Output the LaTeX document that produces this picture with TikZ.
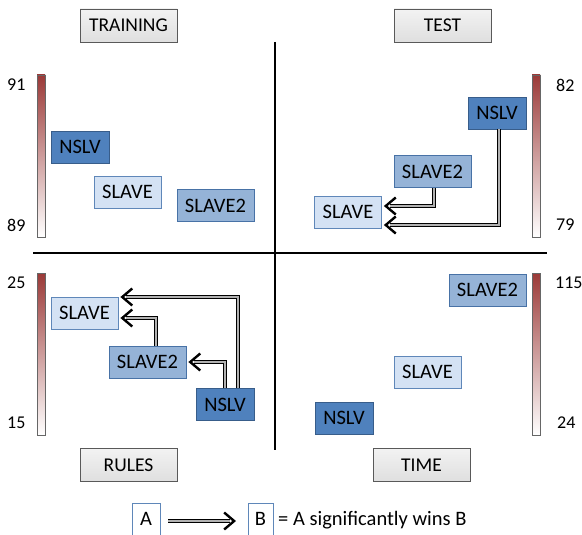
\documentclass[tikz,border=0pt]{standalone}
\usepackage{fontspec}
\setmainfont{Carlito}
\usetikzlibrary{arrows.meta,calc}
\definecolor{nslvfill}{RGB}{79,129,189}
\definecolor{nslvdraw}{RGB}{56,93,138}
\definecolor{s2fill}{RGB}{149,179,215}
\definecolor{s2draw}{RGB}{72,114,166}
\definecolor{sfill}{RGB}{212,226,244}
\definecolor{sdraw}{RGB}{95,135,185}
\definecolor{barred}{RGB}{155,58,56}
\tikzset{
  txt/.style={font=\fontsize{20.5}{24}\selectfont, text=black},
  numlbl/.style={font=\fontsize{18}{21}\selectfont, inner sep=0pt},
  titlebox/.style={font=\fontsize{19.5}{23}\selectfont, draw=gray!70!black, top color=gray!10, bottom color=gray!25, line width=0.8pt, inner sep=0pt, minimum width=97pt, minimum height=33pt},
  nslvbox/.style={txt, draw=nslvdraw, fill=nslvfill, line width=0.8pt, inner sep=0pt, minimum width=58pt, minimum height=32pt},
  slavetwobox/.style={txt, draw=s2draw, fill=s2fill, line width=0.8pt, inner sep=0pt, minimum width=77pt, minimum height=32pt},
  slavebox/.style={txt, draw=sdraw, fill=sfill, line width=0.8pt, inner sep=0pt, minimum width=67pt, minimum height=32pt},
  legbox/.style={txt, draw=sdraw, fill=white, line width=0.6pt, inner sep=0pt, minimum height=32pt},
  conn/.style={draw=black, line width=0.8pt, double=gray!60, double distance=2.4pt, shorten >=6pt},
  tipline/.style={draw=black, line width=2.4pt, -{Straight Barb[length=10pt,width=17pt]}},
  axis/.style={draw=black, line width=1.6pt},
  colbar/.style={draw=gray!80!black, line width=0.6pt, top color=barred, bottom color=white}
}
\begin{document}
\begin{tikzpicture}[x=1pt,y=-1pt]
\useasboundingbox (0,0) rectangle (582,535);

% axes
\draw[axis] (275,42) -- (275,450);
\draw[axis] (33,253) -- (547,253);

% titles
\node[titlebox] (ttrain) at (128.5,25.5) {TRAINING};
\node[titlebox] (ttest) at (442.5,25.5) {TEST};
\node[titlebox] (trules) at (128.5,465) {RULES};
\node[titlebox] (ttime) at (421.5,465) {TIME};

% colour bars
\shade[colbar] (37,75) rectangle (45,237);
\shade[colbar] (532,75) rectangle (540,237);
\shade[colbar] (37,273) rectangle (45,435);
\shade[colbar] (532,273) rectangle (540,435);

\node[numlbl, anchor=west] (l91) at (7,85) {91};
\node[numlbl, anchor=west] (l89) at (7,225) {89};
\node[numlbl, anchor=west] (l25) at (7,283) {25};
\node[numlbl, anchor=west] (l15) at (7,423) {15};
\node[numlbl, anchor=west] (l82) at (556,85) {82};
\node[numlbl, anchor=west] (l79) at (556,225) {79};
\node[numlbl, anchor=west] (l115) at (555,283) {115};
\node[numlbl, anchor=west] (l24) at (557,423) {24};

% training
\node[nslvbox] (ntr) at (80,147) {NSLV};
\node[slavebox] (str) at (127.5,192) {SLAVE};
\node[slavetwobox] (s2tr) at (215.5,205.5) {SLAVE2};

% test
\node[nslvbox] (nte) at (497,113) {NSLV};
\node[slavetwobox] (s2te) at (432.5,171.5) {SLAVE2};
\node[slavebox] (ste) at (348,212) {SLAVE};

% rules
\node[slavebox] (sru) at (84.5,313) {SLAVE};
\node[slavetwobox] (s2ru) at (147.5,362) {SLAVE2};
\node[nslvbox] (nru) at (225,404.5) {NSLV};

% time
\node[slavetwobox] (s2ti) at (487.5,290) {SLAVE2};
\node[slavebox] (sti) at (427.5,372) {SLAVE};
\node[nslvbox] (nti) at (344,418) {NSLV};

% connectors test
\coordinate (c1) at ([xshift=2pt]ste.east |- 0,206);
\coordinate (c2) at ([xshift=2pt]ste.east |- 0,225);
\draw[conn] (s2te.south -| 434,0) |- (c1);
\draw[conn] (nte.south -| 499,0) |- (c2);
\draw[tipline] ($(c1)+(4,0)$) -- (c1);
\draw[tipline] ($(c2)+(4,0)$) -- (c2);

% connectors rules
\coordinate (c3) at ([xshift=2pt]sru.east |- 0,297);
\coordinate (c4) at ([xshift=2pt]s2ru.east |- 0,362);
\coordinate (c5) at ([xshift=2pt]sru.east |- 0,318);
\draw[conn] (nru.north -| 238,0) |- (c3);
\draw[conn] (nru.north -| 225,0) |- (c4);
\draw[conn] (s2ru.north -| 156,0) |- (c5);
\draw[tipline] ($(c3)+(4,0)$) -- (c3);
\draw[tipline] ($(c4)+(4,0)$) -- (c4);
\draw[tipline] ($(c5)+(4,0)$) -- (c5);

% legend
\node[legbox, minimum width=28pt] (la) at (146,519) {A};
\node[legbox, minimum width=25pt] (lb) at (260.5,519) {B};
\coordinate (c6) at (236,521);
\draw[conn] (la.east |- 0,521) ++(8,0) -- (c6);
\draw[tipline] ($(c6)-(4,0)$) -- (c6);
\node[txt, anchor=west, inner sep=0pt] (leg) at (278,520) {= A significantly wins B};
\end{tikzpicture}
\end{document}
